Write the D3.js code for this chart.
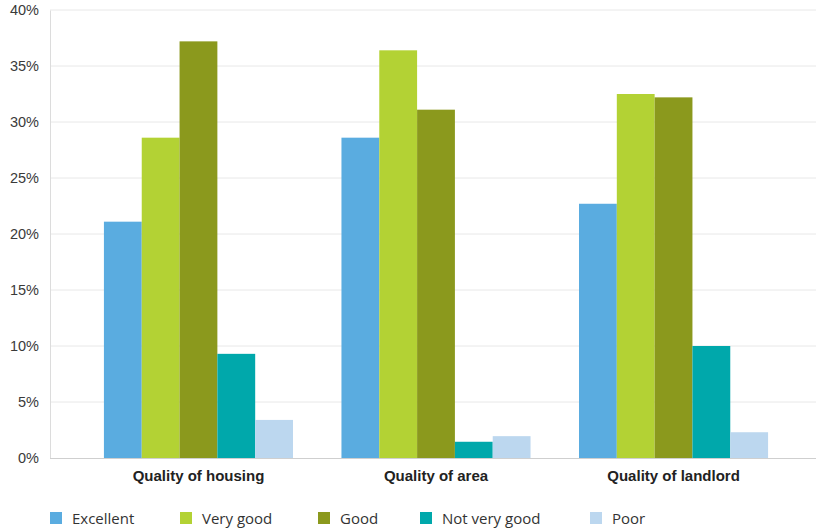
<!DOCTYPE html>
<html>
<head>
<meta charset="utf-8">
<script src="https://cdn.jsdelivr.net/npm/d3@7"></script>
<style>
  html, body { margin: 0; padding: 0; background: #fff; }
  svg { display: block; font-family: "Open Sans", "Noto Sans", sans-serif; }
</style>
</head>
<body>
<svg id="chart" width="816" height="530"></svg>
<script>
// Survey categories and rating shares (%)
const categories = ["Quality of housing", "Quality of area", "Quality of landlord"];
const ratings = ["Excellent", "Very good", "Good", "Not very good", "Poor"];
const excellent = [21.1, 28.6, 22.7];
const veryGood  = [28.6, 36.4, 32.5];
const good      = [37.2, 31.1, 32.2];
const notVeryGood = [9.3, 1.45, 10.0];
const poor      = [3.4, 1.95, 2.3];
const yTicks = [0, 5, 10, 15, 20, 25, 30, 35, 40];

const seriesValues = [excellent, veryGood, good, notVeryGood, poor];
const colors = ["#5aace0", "#b3d234", "#8b991d", "#00a8ab", "#bcd7ef"];

const svg = d3.select("#chart");
const plotLeft = 50, plotRight = 816, plotTop = 10, plotBottom = 458;

const y = d3.scaleLinear().domain([0, 40]).range([plotBottom, plotTop]);
const x0 = d3.scaleBand().domain(categories).range([plotLeft, 822])
  .paddingInner(0.204).paddingOuter(0.227);
const x1 = d3.scaleBand().domain(ratings).range([0, x0.bandwidth()]);
const color = d3.scaleOrdinal().domain(ratings).range(colors);

// Horizontal gridlines
svg.append("g").selectAll("line").data(yTicks.filter(t => t > 0)).join("line")
  .attr("x1", plotLeft).attr("x2", plotRight)
  .attr("y1", d => y(d)).attr("y2", d => y(d))
  .attr("stroke", "#e8e8e8").attr("stroke-width", 1);

// Y axis
const yAxis = svg.append("g").attr("transform", `translate(${plotLeft},0)`)
  .call(d3.axisLeft(y).tickValues(yTicks).tickSize(0).tickPadding(11).tickFormat(d => d + "%"));
yAxis.select(".domain").attr("stroke", "#dcdcdc");
yAxis.selectAll("text").attr("font-size", 14.5).attr("fill", "#3a3a3a");

// Bars
const rows = categories.map((c, i) => ({ cat: c, vals: ratings.map((r, j) => ({ r, v: seriesValues[j][i] })) }));
svg.append("g").selectAll("g").data(rows).join("g")
  .attr("transform", d => `translate(${x0(d.cat)},0)`)
  .selectAll("rect").data(d => d.vals).join("rect")
  .attr("x", d => x1(d.r)).attr("width", x1.bandwidth())
  .attr("y", d => y(d.v)).attr("height", d => y(0) - y(d.v))
  .attr("fill", d => color(d.r));

// Baseline and category axis
const xAxis = svg.append("g").attr("transform", `translate(0,${plotBottom})`)
  .call(d3.axisBottom(x0).tickSize(0).tickPadding(12));
xAxis.select(".domain").attr("stroke", "#cfcfcf").attr("d", `M${plotLeft},0.5H${plotRight}`);
xAxis.selectAll("text").attr("font-size", 15).attr("font-weight", "bold").attr("fill", "#222");

// Legend
const legendX = [50, 180, 318, 420, 590];
const lg = svg.append("g").selectAll("g").data(ratings).join("g")
  .attr("transform", (d, i) => `translate(${legendX[i]},512)`);
lg.append("rect").attr("width", 12).attr("height", 12).attr("fill", d => color(d));
lg.append("text").attr("x", 22).attr("y", 11.5).attr("font-size", 15).attr("fill", "#333").text(d => d);
</script>
</body>
</html>
